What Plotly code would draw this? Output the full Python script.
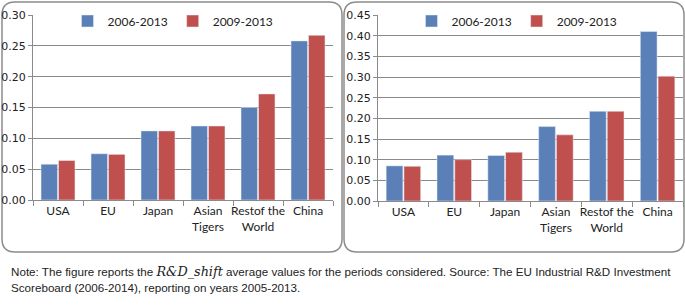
import plotly.graph_objects as go

categories = ["USA", "EU", "Japan", "Asian<br>Tigers", "Restof the<br>World", "China"]
series_names = ["2006-2013", "2009-2013"]

left_2006 = [0.058, 0.075, 0.112, 0.120, 0.150, 0.258]
left_2009 = [0.064, 0.074, 0.112, 0.120, 0.172, 0.267]

right_2006 = [0.085, 0.111, 0.110, 0.180, 0.217, 0.410]
right_2009 = [0.084, 0.100, 0.118, 0.160, 0.217, 0.302]

left_ticks = [0.00, 0.05, 0.10, 0.15, 0.20, 0.25, 0.30]
right_ticks = [0.00, 0.05, 0.10, 0.15, 0.20, 0.25, 0.30, 0.35, 0.40, 0.45]

W, H = 685, 307
BLUE = "#5b80b8"
RED = "#c0504d"
GRID = "#8a8a8a"

fig = go.Figure()

fig.add_trace(go.Bar(x=categories, y=left_2006, name=series_names[0], marker=dict(color=BLUE),
                     xaxis="x", yaxis="y", legend="legend"))
fig.add_trace(go.Bar(x=categories, y=left_2009, name=series_names[1], marker=dict(color=RED),
                     xaxis="x", yaxis="y", legend="legend"))
fig.add_trace(go.Bar(x=categories, y=right_2006, name=series_names[0], marker=dict(color=BLUE),
                     xaxis="x2", yaxis="y2", legend="legend2"))
fig.add_trace(go.Bar(x=categories, y=right_2009, name=series_names[1], marker=dict(color=RED),
                     xaxis="x2", yaxis="y2", legend="legend2"))


def px(v):
    return v / W


def py(v):
    return 1 - v / H


xfont = dict(family="Lato", size=12, color="#222222")
yfont = dict(family="DejaVu Sans", size=11, color="#222222")

common_x = dict(type="category", showline=True, linecolor=GRID, linewidth=1, ticks="outside",
                tickson="boundaries", ticklen=5, tickcolor=GRID, tickfont=xfont, showgrid=False,
                tickangle=0, automargin=False)
common_y = dict(showline=True, linecolor=GRID, linewidth=1, ticks="outside", ticklen=4,
                tickcolor=GRID, tickfont=yfont, showgrid=True, gridcolor=GRID, gridwidth=1,
                tickformat=".2f", zeroline=False, fixedrange=True, automargin=False)

fig.update_layout(
    width=W, height=H,
    margin=dict(l=0, r=0, t=0, b=0, autoexpand=False),
    paper_bgcolor="white", plot_bgcolor="white",
    barmode="group", bargap=0.3, bargroupgap=0.06,
    xaxis=dict(domain=[px(33), px(333)], anchor="y", **common_x),
    yaxis=dict(domain=[py(200), py(15)], anchor="x", range=[0, 0.30], tickvals=left_ticks, **common_y),
    xaxis2=dict(domain=[px(378), px(683)], anchor="y2", **common_x),
    yaxis2=dict(domain=[py(201), py(15)], anchor="x2", range=[0, 0.45], tickvals=right_ticks, **common_y),
    legend=dict(orientation="h", x=px(173), y=py(21), xanchor="center", yanchor="middle",
                bgcolor="rgba(0,0,0,0)", font=dict(family="Lato", size=12, color="#222222"),
                itemwidth=30, tracegroupgap=0),
    legend2=dict(orientation="h", x=px(517), y=py(21), xanchor="center", yanchor="middle",
                 bgcolor="rgba(0,0,0,0)", font=dict(family="Lato", size=12, color="#222222"),
                 itemwidth=30, tracegroupgap=0),
    showlegend=True,
)


def rounded_rect(x0, y0, x1, y1, r):
    rx, ry = r / W, r / H
    X0, X1 = px(x0), px(x1)
    Y0, Y1 = py(y0), py(y1)  # Y0 top, Y1 bottom
    return (f"M{X0 + rx},{Y0} L{X1 - rx},{Y0} Q{X1},{Y0} {X1},{Y0 - ry} "
            f"L{X1},{Y1 + ry} Q{X1},{Y1} {X1 - rx},{Y1} L{X0 + rx},{Y1} "
            f"Q{X0},{Y1} {X0},{Y1 + ry} L{X0},{Y0 - ry} Q{X0},{Y0} {X0 + rx},{Y0} Z")


fig.add_shape(type="path", xref="paper", yref="paper", path=rounded_rect(2, 2, 342, 252, 13),
              line=dict(color="#8c8c8c", width=1.5), layer="below")
fig.add_shape(type="path", xref="paper", yref="paper", path=rounded_rect(344, 2, 684, 252, 13),
              line=dict(color="#8c8c8c", width=1.5), layer="below")

note1 = ("Note: The figure reports the "
         "<span style=\"font-family:'DejaVu Serif';font-style:italic;font-size:12.8px\">R&amp;D_shift</span>"
         " average values for the periods considered. Source: The EU Industrial R&amp;D Investment")
note2 = "Scoreboard (2006-2014), reporting on years 2005-2013."

fig.add_annotation(text=note1, xref="paper", yref="paper", x=px(9), y=py(271), xanchor="left",
                   yanchor="middle", showarrow=False, align="left",
                   font=dict(family="Liberation Sans", size=11.65, color="#222222"))
fig.add_annotation(text=note2, xref="paper", yref="paper", x=px(9), y=py(287), xanchor="left",
                   yanchor="middle", showarrow=False, align="left",
                   font=dict(family="Liberation Sans", size=11.65, color="#222222"))

fig.write_html("out.html", config={"displayModeBar": False},
               post_script="document.body.style.margin='0px';document.body.style.overflow='hidden';")
